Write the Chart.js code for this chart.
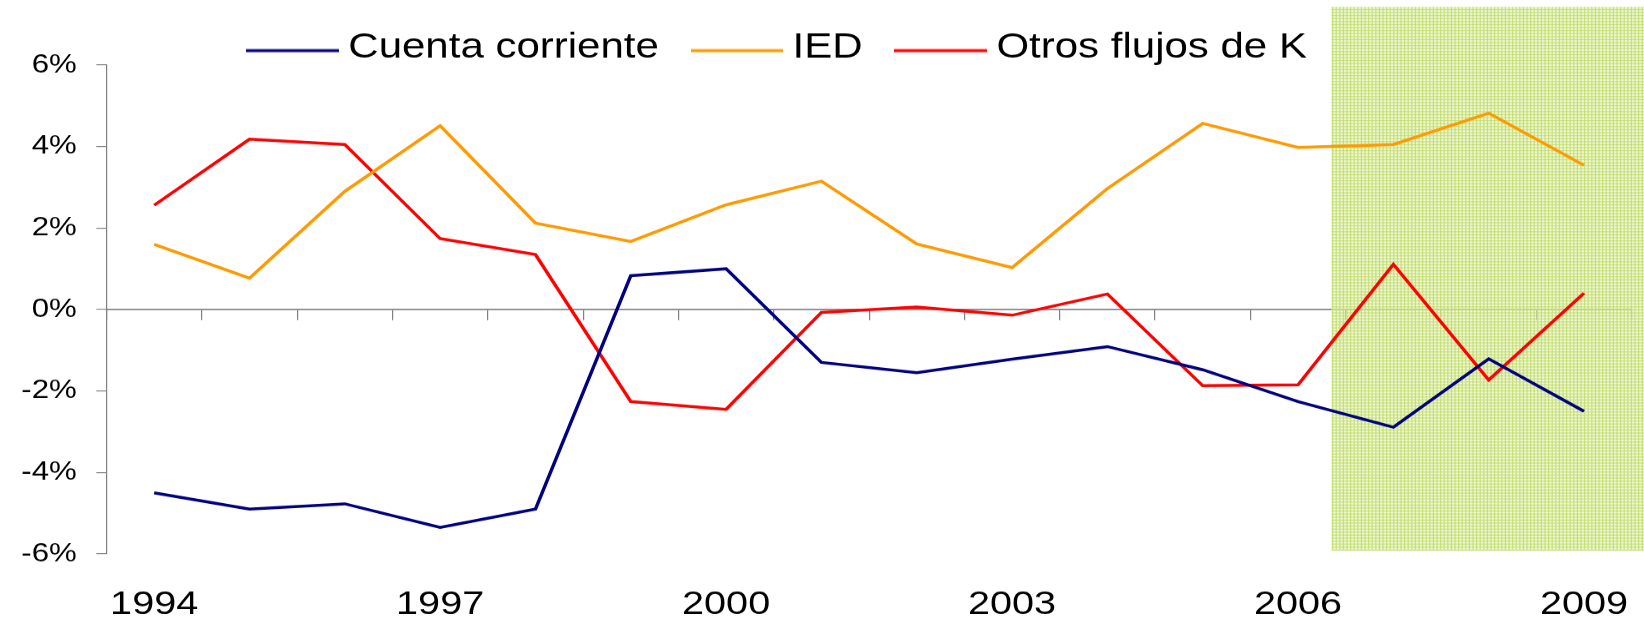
<!DOCTYPE html>
<html><head><meta charset="utf-8">
<script src="https://cdn.jsdelivr.net/npm/chart.js@4"></script>
<style>
html,body{margin:0;padding:0;background:#fff;overflow:hidden;}
#wrap{width:1644px;height:619px;overflow:hidden;}
#c{display:block;transform:scaleX(1.2);transform-origin:0 0;}
</style></head><body>
<div id="wrap"><canvas id="c" width="1370" height="619"></canvas></div>
<script>
const years = ['1994','1995','1996','1997','1998','1999','2000','2001','2002','2003','2004','2005','2006','2007','2008','2009'];
const cuentaCorriente = [-4.50, -4.90, -4.77, -5.35, -4.90, 0.83, 1.00, -1.30, -1.55, -1.22, -0.91, -1.48, -2.26, -2.89, -1.21, -2.50];
const ied = [1.60, 0.77, 2.90, 4.51, 2.12, 1.67, 2.57, 3.15, 1.61, 1.03, 2.97, 4.57, 3.98, 4.05, 4.82, 3.54];
const otrosFlujos = [2.56, 4.18, 4.05, 1.74, 1.35, -2.26, -2.45, -0.07, 0.06, -0.14, 0.38, -1.87, -1.85, 1.11, -1.73, 0.40];
const yTicks = [-6, -4, -2, 0, 2, 4, 6];
const shownYears = ['1994','1997','2000','2003','2006','2009'];
const shade = {fromIndex: 12.35, top: 7.43, bottom: -5.92};

const FONT = "'Liberation Sans', Arial, sans-serif";
Chart.defaults.font.family = FONT;
Chart.defaults.color = '#000';

function makePattern(ctx){
  const c = document.createElement('canvas'); c.width = 3; c.height = 3;
  const g = c.getContext('2d');
  g.fillStyle = 'rgba(232,244,200,0.6)'; g.fillRect(0,0,3,3);
  g.fillStyle = 'rgba(190,220,100,0.85)'; g.fillRect(0,0,3,1); g.fillRect(0,0,1,3);
  return ctx.createPattern(c,'repeat');
}

function legendLine(color){
  const c = document.createElement('canvas'); c.width = 77; c.height = 9;
  const g = c.getContext('2d');
  g.fillStyle = color; g.fillRect(0, 5.6, 77, 2.9);
  return c;
}

const shadePlugin = {
  id: 'shade',
  beforeDatasetsDraw(chart){
    const {ctx} = chart; const xs = chart.scales.x, ys = chart.scales.y;
    const x0 = xs.getPixelForValue(shade.fromIndex);
    const y0 = ys.getPixelForValue(shade.top), y1 = ys.getPixelForValue(shade.bottom);
    ctx.save();
    ctx.fillStyle = makePattern(ctx);
    ctx.fillRect(x0, y0, chart.width - x0, y1 - y0);
    ctx.restore();
  }
};

const legendShift = {
  id: 'legendShift',
  afterLayout(chart){
    const lg = chart.legend;
    if (lg) { lg.left = chart.chartArea.left + 90; lg.top = lg.top - 5.5; }
  }
};

const colors = {cc: '#000080', ied: '#FF9900', otros: '#FF0000'};

new Chart(document.getElementById('c'), {
  type: 'line',
  data: {
    labels: years,
    datasets: [
      {label: 'Cuenta corriente', data: cuentaCorriente, borderColor: colors.cc, backgroundColor: colors.cc, borderWidth: 2.9, pointRadius: 0, pointStyle: legendLine(colors.cc), tension: 0, fill: false},
      {label: 'IED', data: ied, borderColor: colors.ied, backgroundColor: colors.ied, borderWidth: 2.9, pointRadius: 0, pointStyle: legendLine(colors.ied), tension: 0, fill: false},
      {label: 'Otros flujos de K', data: otrosFlujos, borderColor: colors.otros, backgroundColor: colors.otros, borderWidth: 2.9, pointRadius: 0, pointStyle: legendLine(colors.otros), tension: 0, fill: false}
    ]
  },
  options: {
    responsive: false,
    animation: false,
    devicePixelRatio: 1.2,
    layout: {padding: {left: 0, right: 10.25, top: 0, bottom: 0}},
    plugins: {
      legend: {
        position: 'top', align: 'start', maxHeight: 65,
        labels: {font: {size: 35, family: FONT}, color: '#000', usePointStyle: true, pointStyleWidth: 58, padding: 36}
      },
      tooltip: {enabled: false}
    },
    scales: {
      x: {
        type: 'category', position: {y: 0}, offset: true,
        grid: {display: true, offset: true, drawOnChartArea: false, drawTicks: true, tickLength: 10, color: '#808080', lineWidth: 1},
        border: {display: true, color: '#808080', width: 1.5},
        ticks: {display: false}
      },
      x2: {
        type: 'category', position: 'bottom', offset: true,
        grid: {display: false, drawTicks: true, tickLength: 31}, border: {display: false},
        ticks: {autoSkip: false, maxRotation: 0, padding: 0, font: {size: 33, family: FONT}, color: '#000',
          callback: function(v, i){ const l = this.getLabelForValue(v); return shownYears.includes(l) ? l : ''; }},
        afterFit: (s) => { s.height = 65.7; }
      },
      y: {
        min: -6, max: 6,
        afterBuildTicks: (s) => { s.ticks = yTicks.map(v => ({value: v})); },
        grid: {display: true, drawOnChartArea: false, drawTicks: true, tickLength: 8.5, color: '#808080', lineWidth: 1},
        border: {display: true, color: '#808080', width: 1},
        ticks: {padding: 16.25, font: {size: 26, family: FONT}, color: '#000', callback: v => v + '%'},
        afterFit: (s) => { s.width = 88.75; }
      }
    }
  },
  plugins: [shadePlugin, legendShift]
});
</script>
</body></html>
